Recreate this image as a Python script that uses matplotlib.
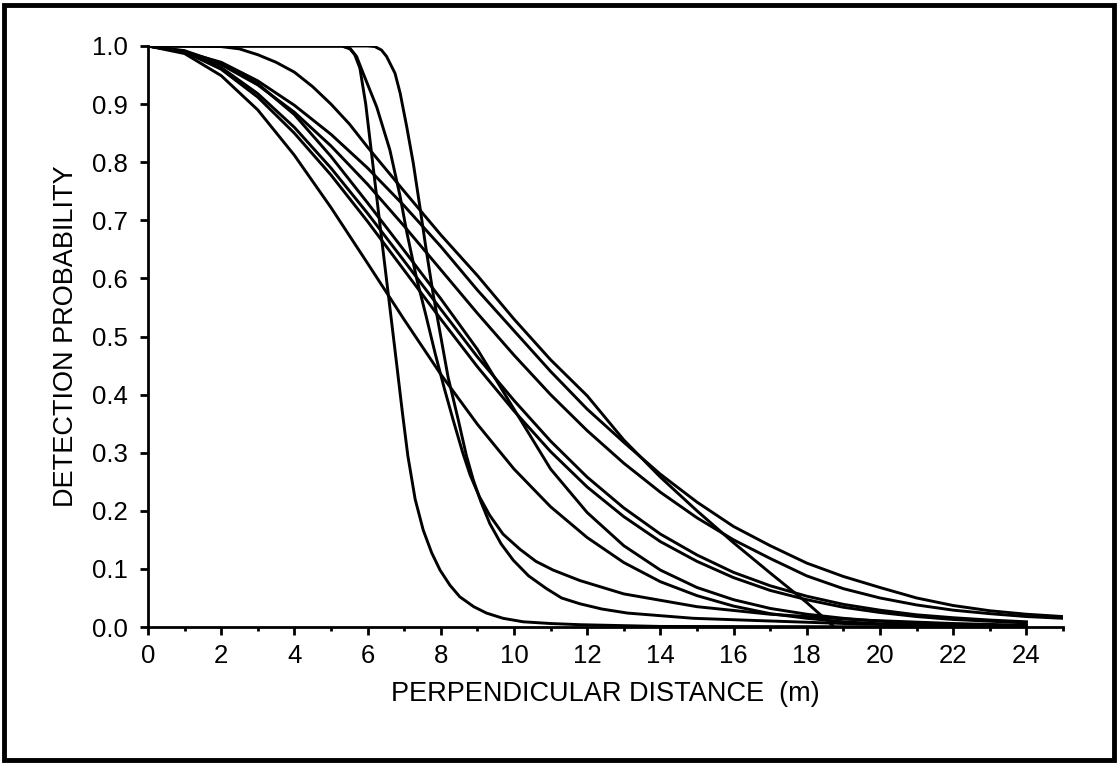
import matplotlib
matplotlib.use("Agg")
import matplotlib.pyplot as plt
from matplotlib.patches import Rectangle

plt.rcParams['font.family'] = ['Liberation Sans', 'DejaVu Sans']

# values
x_grid = [0, 1, 2, 3, 4, 5, 6, 7, 8, 9, 10, 11, 12, 13, 14, 15, 16, 17, 18, 19, 20, 21, 22, 23, 24, 25]

# curve that runs straight down to zero near 18.7 m
lin_x = [0, 1, 2, 2.5, 3, 3.5, 4, 4.5, 5, 5.5, 6, 7, 8, 9, 10, 11, 12, 13, 14, 15, 16, 17, 18, 18.75]
lin_y = [1, 1, 0.999, 0.995, 0.985, 0.972, 0.955, 0.93, 0.90, 0.866, 0.826, 0.75, 0.675, 0.605,
         0.53, 0.46, 0.398, 0.322, 0.258, 0.200, 0.145, 0.093, 0.042, 0.0]

# broad curves on the 1 m grid
broad_1 = [1, 0.99, 0.972, 0.94, 0.898, 0.848, 0.79, 0.725, 0.655, 0.58, 0.51, 0.44, 0.375,
           0.318, 0.263, 0.215, 0.173, 0.14, 0.11, 0.087, 0.068, 0.05, 0.037, 0.028, 0.022, 0.018]
broad_2 = [1, 0.99, 0.968, 0.933, 0.886, 0.828, 0.762, 0.69, 0.615, 0.54, 0.468, 0.4, 0.338,
           0.282, 0.232, 0.188, 0.15, 0.118, 0.088, 0.066, 0.05, 0.038, 0.029, 0.023, 0.018, 0.015]
broad_3 = [1, 0.991, 0.963, 0.918, 0.86, 0.79, 0.712, 0.63, 0.547, 0.465, 0.39, 0.32, 0.258,
           0.205, 0.16, 0.124, 0.094, 0.071, 0.053, 0.039, 0.029, 0.021, 0.016, 0.012, 0.009]
broad_4 = [1, 0.99, 0.96, 0.912, 0.85, 0.778, 0.698, 0.614, 0.53, 0.448, 0.372, 0.302, 0.241,
           0.19, 0.147, 0.113, 0.085, 0.063, 0.047, 0.034, 0.025, 0.018, 0.013, 0.01, 0.007]
broad_5 = [1, 0.992, 0.97, 0.935, 0.882, 0.81, 0.73, 0.648, 0.565, 0.478, 0.375, 0.272, 0.197,
           0.14, 0.098, 0.068, 0.047, 0.032, 0.022, 0.015, 0.01, 0.007, 0.005, 0.003, 0.002]
broad_6 = [1, 0.987, 0.949, 0.89, 0.812, 0.722, 0.626, 0.529, 0.435, 0.349, 0.272, 0.207, 0.154,
           0.111, 0.078, 0.054, 0.036, 0.023, 0.015, 0.009, 0.0055, 0.003, 0.002, 0.001, 0.0005]

# steep (shoulder) curves
steep_a_x = [0, 5.3, 5.52, 5.65, 5.79, 5.95, 6.1, 6.25, 6.4, 6.6, 6.8, 6.95, 7.1, 7.3, 7.52,
             7.75, 7.98, 8.25, 8.52, 8.9, 9.25, 9.7, 10.25, 11, 11.8, 14, 24]
steep_a_y = [1, 1, 0.995, 0.985, 0.962, 0.90, 0.82, 0.74, 0.66, 0.555, 0.45, 0.37, 0.295, 0.22,
             0.167, 0.128, 0.098, 0.072, 0.052, 0.035, 0.024, 0.015, 0.009, 0.006, 0.004, 0.001, 0]
steep_b_x = [0, 5.3, 5.52, 5.7, 5.88, 6.25, 6.61, 6.89, 7.07, 7.34, 7.6, 7.85, 8.1, 8.34, 8.6,
             8.8, 9.05, 9.34, 9.7, 10.16, 10.6, 11.07, 11.8, 13, 15, 17, 19.5, 22, 24]
steep_b_y = [1, 1, 0.996, 0.982, 0.953, 0.895, 0.821, 0.741, 0.68, 0.60, 0.535, 0.47, 0.41, 0.356,
             0.30, 0.262, 0.225, 0.192, 0.16, 0.134, 0.113, 0.098, 0.08, 0.057, 0.035, 0.022,
             0.012, 0.006, 0.003]
steep_c_x = [0, 6.0, 6.2, 6.38, 6.52, 6.75, 6.89, 7.07, 7.25, 7.43, 7.6, 7.8, 8.0, 8.2, 8.48, 8.7,
             8.89, 9.1, 9.34, 9.65, 9.98, 10.4, 10.89, 11.3, 11.8, 12.4, 13.1, 14.9, 16.7, 19.5, 24]
steep_c_y = [1, 1, 0.999, 0.993, 0.982, 0.953, 0.919, 0.861, 0.798, 0.723, 0.65, 0.57, 0.50, 0.43,
             0.356, 0.295, 0.253, 0.215, 0.178, 0.143, 0.115, 0.088, 0.066, 0.05, 0.04, 0.031,
             0.024, 0.015, 0.011, 0.005, 0.001]

y_ticks = [0.0, 0.1, 0.2, 0.3, 0.4, 0.5, 0.6, 0.7, 0.8, 0.9, 1.0]
x_ticks = [0, 2, 4, 6, 8, 10, 12, 14, 16, 18, 20, 22, 24]


def main():
    fig = plt.figure(figsize=(11.2, 7.64), dpi=100)
    ax = fig.add_axes([0.1321, 0.1793, 0.8170, 0.7605])

    lw = 2.1
    ax.plot(lin_x, lin_y, color="black", lw=lw)
    for ys in [broad_1, broad_2]:
        ax.plot(x_grid, ys, color="black", lw=lw)
    for ys in [broad_3, broad_4, broad_5, broad_6]:
        ax.plot(x_grid[:len(ys)], ys, color="black", lw=lw)
    ax.plot(steep_a_x, steep_a_y, color="black", lw=lw)
    ax.plot(steep_b_x, steep_b_y, color="black", lw=lw)
    ax.plot(steep_c_x, steep_c_y, color="black", lw=lw)

    ax.set_xlim(0, 25)
    ax.set_ylim(0, 1.0)
    ax.set_xticks(x_ticks)
    ax.set_xticks(range(1, 26, 2), minor=True)
    ax.set_yticks(y_ticks)
    ax.set_yticklabels([f"{v:.1f}" for v in y_ticks])

    for side in ["top", "right"]:
        ax.spines[side].set_visible(False)
    for side in ["left", "bottom"]:
        ax.spines[side].set_linewidth(2.0)

    ax.tick_params(which="major", direction="out", length=5.5, width=2.0, labelsize=18.5)
    ax.tick_params(axis="x", which="major", pad=7)
    ax.tick_params(axis="y", which="major", pad=9)
    ax.tick_params(which="minor", direction="out", length=3, width=2.0)

    ax.set_xlabel("PERPENDICULAR DISTANCE  (m)", fontsize=19.5, labelpad=9)
    ax.set_ylabel("DETECTION PROBABILITY", fontsize=19.5, labelpad=9)

    # thick frame round the whole picture
    fig.patches.append(Rectangle((0.004, 0.005), 0.991, 0.989, transform=fig.transFigure,
                                 fill=False, edgecolor="black", linewidth=3.5))

    fig.savefig("out.png", dpi=100)


if __name__ == "__main__":
    main()
